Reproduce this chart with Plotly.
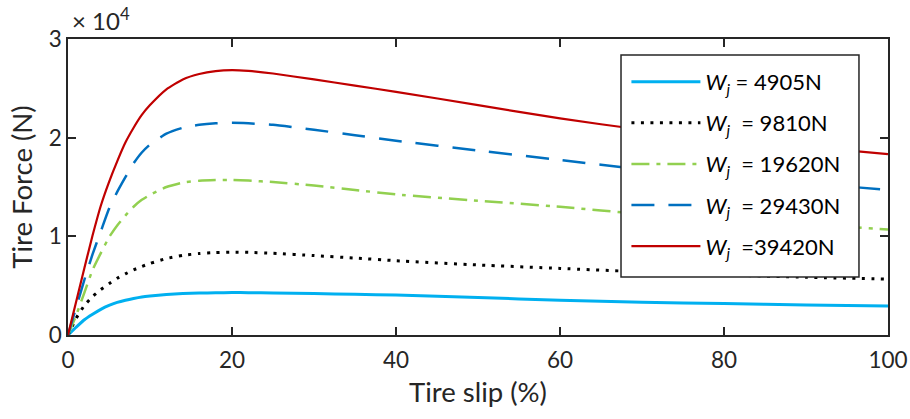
import plotly.graph_objects as go

slip = [0, 1, 2, 3, 4, 5, 6, 7, 8, 9, 10, 12, 14, 16, 18, 20, 22, 25, 30, 35, 40, 50, 60, 70, 80, 90, 100]

f_4905 = [0, 0.08, 0.155, 0.21, 0.26, 0.30, 0.33, 0.352, 0.37, 0.385, 0.395, 0.41, 0.42, 0.425, 0.428, 0.43,
          0.429, 0.426, 0.42, 0.412, 0.405, 0.38, 0.352, 0.332, 0.318, 0.305, 0.295]
f_9810 = [0, 0.17, 0.30, 0.39, 0.46, 0.52, 0.575, 0.62, 0.66, 0.695, 0.725, 0.775, 0.807, 0.826, 0.836, 0.84,
          0.838, 0.828, 0.805, 0.78, 0.753, 0.71, 0.675, 0.64, 0.61, 0.585, 0.567]
f_19620 = [0, 0.2, 0.43, 0.66, 0.83, 0.99, 1.11, 1.21, 1.30, 1.37, 1.42, 1.50, 1.545, 1.563, 1.57, 1.572,
           1.565, 1.55, 1.515, 1.47, 1.425, 1.36, 1.30, 1.225, 1.17, 1.12, 1.07]
f_29430 = [0, 0.28, 0.56, 0.82, 1.05, 1.28, 1.45, 1.60, 1.74, 1.85, 1.93, 2.04, 2.10, 2.13, 2.145, 2.15,
           2.145, 2.13, 2.08, 2.025, 1.969, 1.87, 1.773, 1.68, 1.61, 1.54, 1.47]
f_39420 = [0, 0.34, 0.68, 1.01, 1.31, 1.55, 1.76, 1.95, 2.10, 2.23, 2.33, 2.49, 2.59, 2.645, 2.675, 2.685,
           2.677, 2.65, 2.59, 2.528, 2.465, 2.33, 2.195, 2.08, 1.99, 1.91, 1.834]

series_names = ["<i>W</i><sub><i>j</i></sub> = 4905N",
                "<i>W</i><sub><i>j</i></sub>  = 9810N",
                "<i>W</i><sub><i>j</i></sub>  = 19620N",
                "<i>W</i><sub><i>j</i></sub>  = 29430N",
                "<i>W</i><sub><i>j</i></sub>  =39420N"]
series_vals = [f_4905, f_9810, f_19620, f_29430, f_39420]
colors = ["#00B0F0", "#000000", "#92D050", "#0070C0", "#C00000"]
dashes = ["solid", "3px,6.5px", "18px,7px,4px,7px", "23px,14px", "solid"]
widths = [3, 3, 2.5, 2.5, 2.2]

xticks = [0, 20, 40, 60, 80, 100]
yticks = [0, 10000, 20000, 30000]
ytick_text = ["0", "1", "2", "3"]

FONT = "Lato"
AX = "#262626"

fig = go.Figure()
for i, (name, vals, c, d, w) in enumerate(zip(series_names, series_vals, colors, dashes, widths)):
    fig.add_trace(go.Scatter(
        x=slip, y=[v * 1e4 for v in vals], mode="lines", name=name, legendgroup=str(i),
        line=dict(color=c, dash=d, width=w, shape="spline", smoothing=0.5),
    ))

fig.update_layout(
    width=910, height=419,
    margin=dict(l=68, r=22, t=39, b=84, autoexpand=False),
    paper_bgcolor="white", plot_bgcolor="white",
    font=dict(family=FONT, size=22, color=AX),
    showlegend=True,
    legend=dict(
        x=0.681, y=0.926, xanchor="left", yanchor="top",
        bgcolor="rgba(0,0,0,0)", borderwidth=0,
        font=dict(family=FONT, size=22, color="black"),
        tracegroupgap=9.5, itemwidth=69,
    ),
    shapes=[dict(
        type="rect", xref="paper", yref="paper", x0=0.6744, x1=0.9646, y0=0.196, y1=0.946,
        fillcolor="white", line=dict(color=AX, width=1.5), layer="above",
    )],
    xaxis=dict(
        range=[0, 100], tickvals=xticks, ticks="inside", ticklen=8, tickwidth=1.5,
        tickcolor=AX, showline=True, linecolor=AX, linewidth=1.5, mirror="ticks",
        showgrid=False, zeroline=False, automargin=False,
        tickfont=dict(size=22.5),
        title=dict(text="Tire slip (%)", standoff=11, font=dict(size=27.5)),
        ticklabelstandoff=4,
    ),
    yaxis=dict(
        range=[0, 30000], tickvals=yticks, ticktext=ytick_text, ticks="inside", ticklen=8, tickwidth=1.5,
        tickcolor=AX, showline=True, linecolor=AX, linewidth=1.5, mirror="ticks",
        showgrid=False, zeroline=False, automargin=False,
        tickfont=dict(size=22.5),
        title=dict(text="Tire Force (N)", standoff=8, font=dict(size=27.5)),
        ticklabelstandoff=0,
    ),
    annotations=[dict(
        text="× 10<sup>4</sup>", xref="paper", yref="paper", x=0.0, y=1.0,
        xanchor="left", yanchor="bottom", showarrow=False, yshift=2, xshift=2,
        font=dict(family=FONT, size=24, color=AX),
    )],
)

fig.write_html("out.html")
